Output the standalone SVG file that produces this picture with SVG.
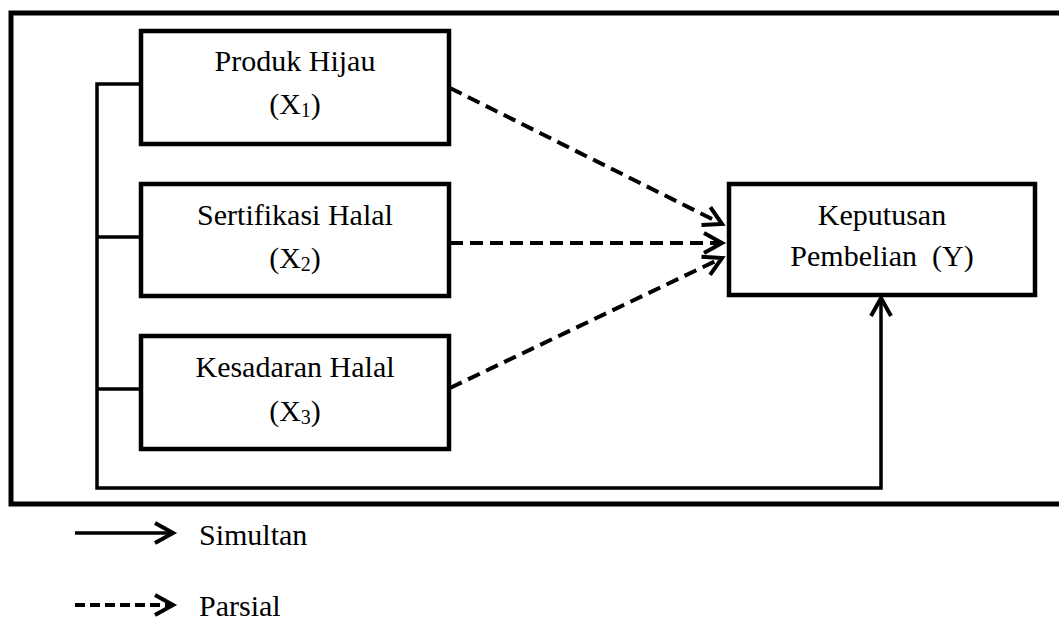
<svg xmlns="http://www.w3.org/2000/svg" width="1059" height="619" viewBox="0 0 1059 619">
  <style>
    .box { fill: #fff; stroke: #000; stroke-width: 4.5; }
    .lbl { font-family: "Liberation Serif", "Times New Roman", serif; font-size: 30px; fill: #000; }
    .mid { text-anchor: middle; }
    .solid { fill: none; stroke: #000; stroke-width: 3.5; }
    .dash { fill: none; stroke: #000; stroke-width: 4; stroke-dasharray: 13 7; }
    .dashleg { fill: none; stroke: #000; stroke-width: 4; stroke-dasharray: 10 5; }
  </style>
  <defs>
    <marker id="chev" markerUnits="userSpaceOnUse" markerWidth="30" markerHeight="30" viewBox="-25 -15 30 30" refX="0" refY="0" orient="auto">
      <path d="M -18 -10 L 0 0 L -18 10" fill="none" stroke="#000" stroke-width="4"/>
    </marker>
  </defs>
  <rect width="1059" height="619" fill="#fff"/>
  <g id="frame">
    <path d="M 1059 13 H 11 V 504 H 1059" fill="none" stroke="#000" stroke-width="5"/>
  </g>
  <g id="connectors">
    <path class="solid" d="M 141 84 H 97 V 488 H 881 V 298" marker-end="url(#chev)"/>
    <path class="solid" d="M 97 237 H 141"/>
    <path class="solid" d="M 97 389 H 141"/>
    <path class="dash" d="M 450 88 L 722 224" marker-end="url(#chev)"/>
    <path class="dash" d="M 450 243 L 722 243" marker-end="url(#chev)"/>
    <path class="dash" d="M 450 388 L 722 258" marker-end="url(#chev)"/>
  </g>
  <g id="x1">
    <rect class="box" x="141" y="31" width="308" height="113"/>
    <text class="lbl mid" x="295" y="71">Produk Hijau</text>
    <text class="lbl mid" x="295" y="114">(X<tspan font-size="20" dy="3">1</tspan><tspan dy="-3">)</tspan></text>
  </g>
  <g id="x2">
    <rect class="box" x="141" y="184" width="308" height="112"/>
    <text class="lbl mid" x="295" y="225">Sertifikasi  Halal</text>
    <text class="lbl mid" x="295" y="268">(X<tspan font-size="20" dy="3">2</tspan><tspan dy="-3">)</tspan></text>
  </g>
  <g id="x3">
    <rect class="box" x="141" y="336" width="308" height="113"/>
    <text class="lbl mid" x="295" y="377">Kesadaran Halal</text>
    <text class="lbl mid" x="295" y="421">(X<tspan font-size="20" dy="3">3</tspan><tspan dy="-3">)</tspan></text>
  </g>
  <g id="y">
    <rect class="box" x="729" y="184" width="306" height="111"/>
    <text class="lbl mid" x="882" y="225">Keputusan</text>
    <text class="lbl mid" x="882" y="266" xml:space="preserve">Pembelian  (Y)</text>
  </g>
  <g id="legend">
    <path class="solid" d="M 75 533 H 173" marker-end="url(#chev)"/>
    <text class="lbl" x="199" y="545">Simultan</text>
    <path class="dashleg" d="M 75 605 H 173" marker-end="url(#chev)"/>
    <text class="lbl" x="199" y="616">Parsial</text>
  </g>
</svg>
